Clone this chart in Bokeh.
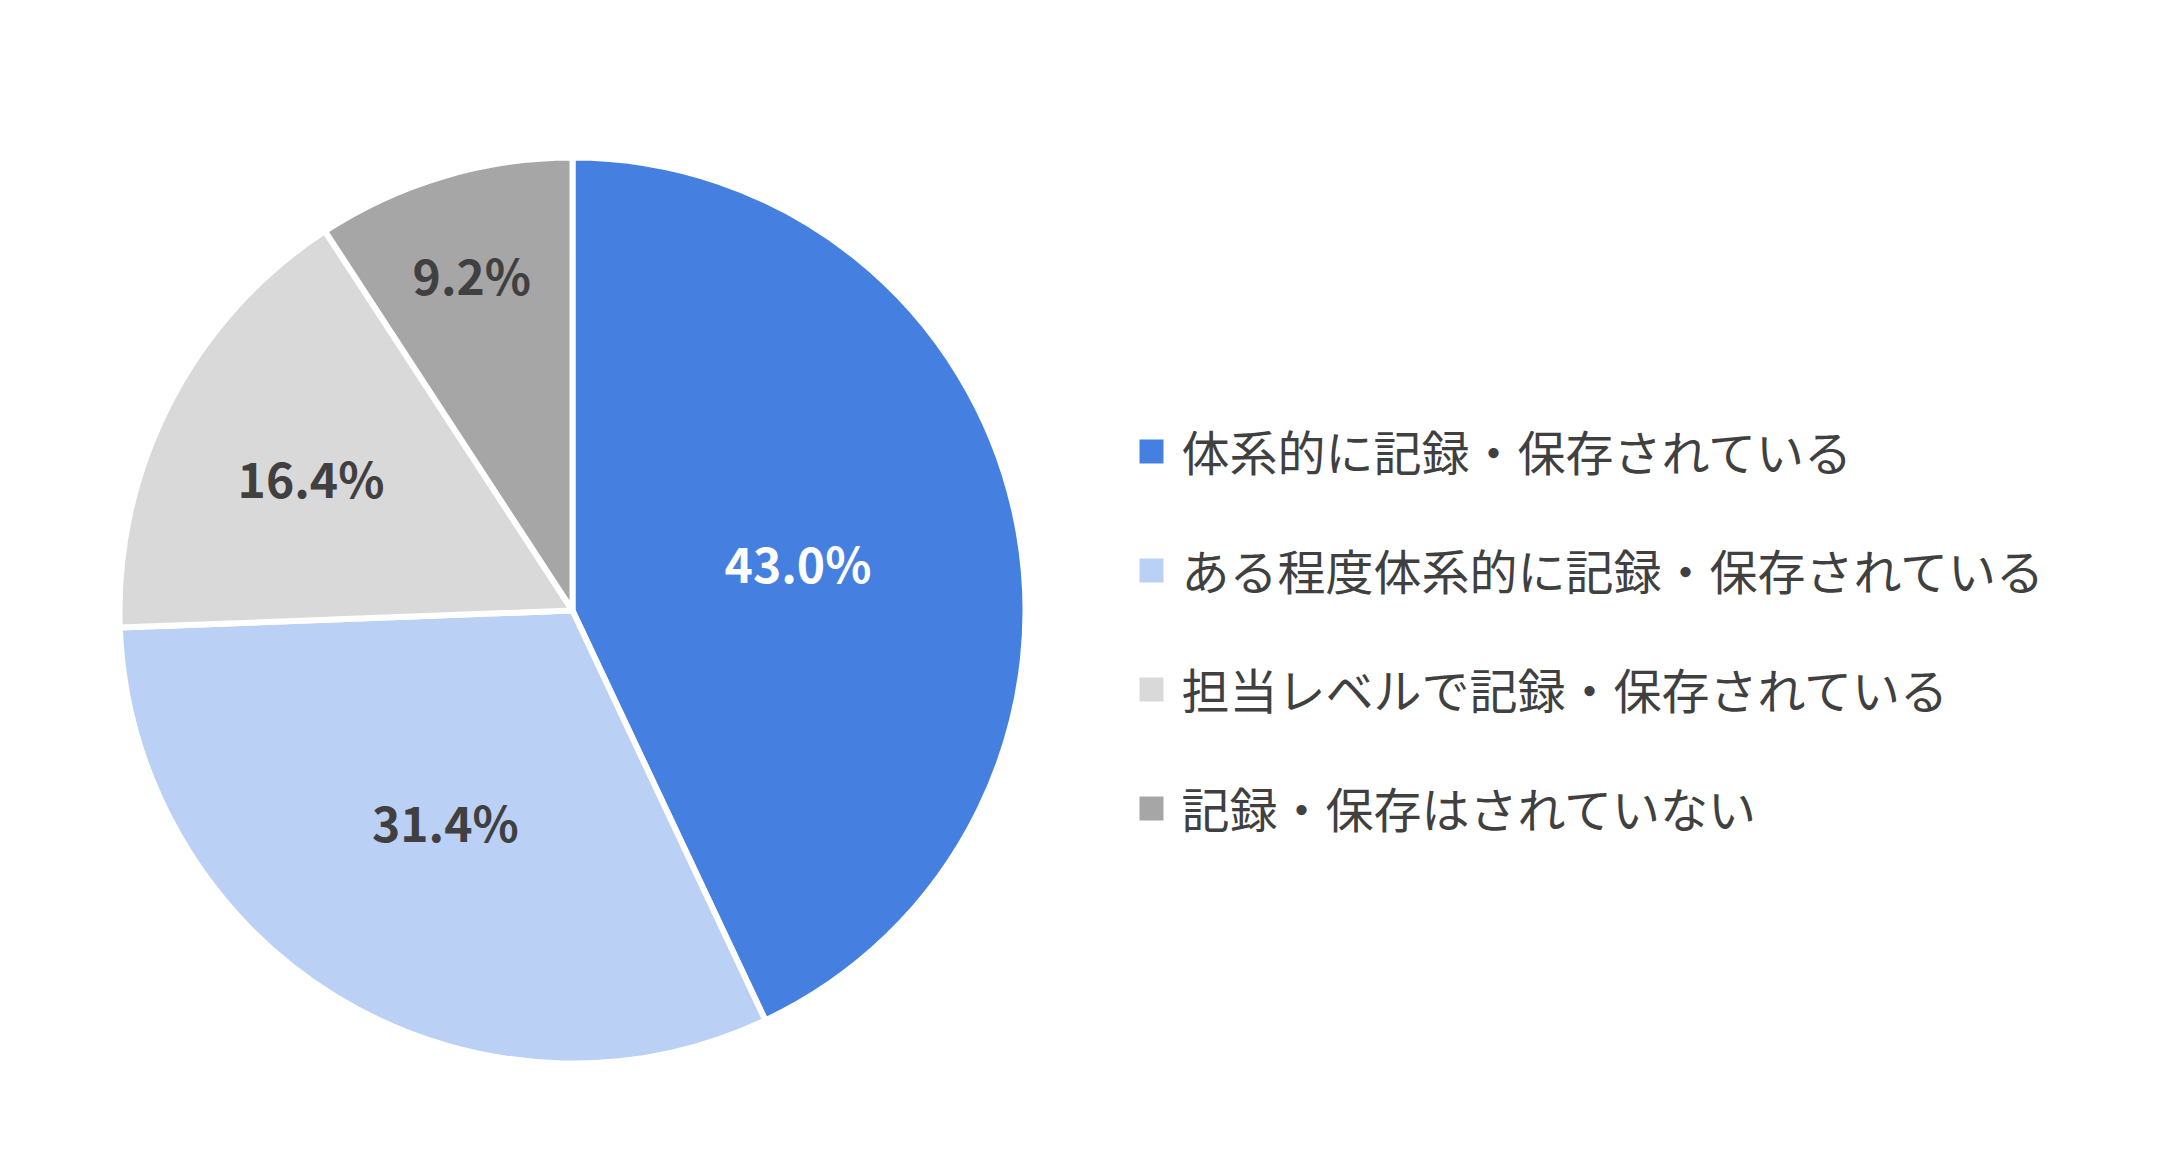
import math
from bokeh.plotting import figure
from bokeh.models import ColumnDataSource, Range1d
from bokeh.core.properties import value
from bokeh.embed import file_html
from bokeh.resources import INLINE

# ---- data ----
categories = [
    "体系的に記録・保存されている",
    "ある程度体系的に記録・保存されている",
    "担当レベルで記録・保存されている",
    "記録・保存はされていない",
]
shares = [43.0, 31.4, 16.4, 9.2]

# ---- styles ----
colors = ["#4580E0", "#BBD0F5", "#D9D9D9", "#A6A6A6"]
label_colors = ["#FFFFFF", "#404040", "#404040", "#404040"]
label_radius_frac = [0.51, 0.54, 0.65, 0.78]

W, H = 2140, 1150
cx, cy, R = 572, 540, 453
FONT = "Noto Sans CJK JP"

total = sum(shares)
starts, ends, lx, ly, labels = [], [], [], [], []
cum = 0.0
for i, v in enumerate(shares):
    a_end = math.pi / 2 - cum / total * 2 * math.pi
    cum += v
    a_start = math.pi / 2 - cum / total * 2 * math.pi
    starts.append(a_start)
    ends.append(a_end)
    mid = (a_start + a_end) / 2
    lx.append(cx + R * label_radius_frac[i] * math.cos(mid))
    ly.append(cy + R * label_radius_frac[i] * math.sin(mid) - 2)
    labels.append(f"{v:.1f}%")

src = ColumnDataSource(dict(
    cat=categories, start=starts, end=ends, color=colors,
    lx=lx, ly=ly, label=labels, lcolor=label_colors,
    x=[cx] * len(shares), y=[cy] * len(shares),
))

p = figure(width=W, height=H, output_backend="svg", toolbar_location=None,
           x_range=Range1d(0, W), y_range=Range1d(0, H),
           min_border=0, min_border_left=0, min_border_right=0,
           min_border_top=0, min_border_bottom=0)
p.axis.visible = False
p.grid.visible = False
p.outline_line_color = None
p.background_fill_color = "white"
p.border_fill_color = "white"

p.wedge(x="x", y="y", radius=R, start_angle="start", end_angle="end",
        direction="anticlock", fill_color="color", line_color="white",
        line_width=6, source=src)

p.text(x="lx", y="ly", text="label", text_color="lcolor",
       text_font=value(FONT), text_font_style="bold", text_font_size="48px",
       text_align="center", text_baseline="middle", source=src)

# ---- legend (manual) ----
leg_x = 1151
leg_top = 699
leg_step = 119
leg_y = [leg_top - i * leg_step for i in range(len(categories))]
leg_src = ColumnDataSource(dict(
    sx=[leg_x] * len(categories), sy=leg_y, cat=categories, color=colors,
    tx=[leg_x + 30] * len(categories), ty=[y + 2 for y in leg_y],
))
p.rect(x="sx", y="sy", width=24, height=24, fill_color="color",
       line_color=None, source=leg_src)
p.text(x="tx", y="ty", text="cat", text_color="#404040",
       text_font=value(FONT), text_font_size="48px",
       text_align="left", text_baseline="middle", source=leg_src)

open("out.html", "w").write(file_html(p, INLINE))
